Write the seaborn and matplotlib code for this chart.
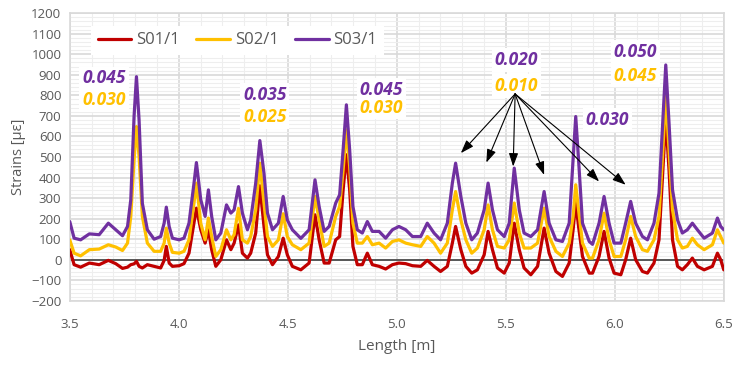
import pandas as pd
import seaborn as sns
import matplotlib.pyplot as plt
from matplotlib.ticker import MultipleLocator, FormatStrFormatter

# === Data ===
length = [3.50, 3.52, 3.55, 3.59, 3.635, 3.677, 3.711, 3.742, 3.765, 3.78,
          3.795, 3.806, 3.818, 3.833, 3.856, 3.887, 3.917, 3.933, 3.943, 3.956,
          3.971, 4.002, 4.024, 4.047, 4.07, 4.081,
          4.101, 4.121, 4.136, 4.151, 4.17, 4.193, 4.219, 4.239, 4.254, 4.274,
          4.292, 4.315, 4.33, 4.353, 4.372, 4.391, 4.407, 4.43, 4.457, 4.479,
          4.498, 4.521, 4.56, 4.598, 4.625, 4.644, 4.667, 4.69,
          4.72, 4.738, 4.754, 4.769, 4.784, 4.799, 4.819, 4.842, 4.865, 4.888,
          4.919, 4.949, 4.98, 5.01, 5.041, 5.072, 5.11, 5.14, 5.171, 5.201,
          5.232, 5.255, 5.27,
          5.294, 5.317, 5.344, 5.37, 5.401, 5.419, 5.439, 5.462, 5.493, 5.516,
          5.539, 5.562, 5.584, 5.615, 5.646, 5.676, 5.699, 5.73, 5.76, 5.791,
          5.809, 5.821, 5.834, 5.852, 5.883,
          5.898, 5.928, 5.951, 5.974, 5.997, 6.028, 6.05, 6.073, 6.096, 6.127,
          6.15, 6.18, 6.203, 6.219, 6.234, 6.249, 6.265, 6.288, 6.31, 6.333,
          6.356, 6.379, 6.41, 6.448, 6.471, 6.486, 6.50]

s03 = [186, 105, 97, 126, 122, 178, 146, 117, 162, 292,
       697, 891, 680, 275, 146, 100, 113, 178, 256, 162,
       105, 97, 105, 178, 373, 473,
       292, 211, 340, 211, 97, 130, 267, 227, 243, 356,
       227, 146, 194, 373, 580, 421, 227, 146, 178, 308,
       194, 146, 104, 146, 389, 259, 138, 162,
       276, 316, 535, 754, 535, 259, 146, 130, 186, 138,
       138, 105, 146, 162, 146, 113, 113, 178, 130, 97,
       178, 373, 470,
       308, 178, 97, 130, 243, 373, 243, 146, 113, 178,
       446, 243, 130, 113, 146, 332, 178, 97, 89, 178,
       486, 697, 486, 178, 89,
       75, 178, 308, 178, 81, 81, 178, 284, 178, 113,
       97, 178, 324, 648, 948, 665, 340, 194, 130, 146,
       178, 146, 105, 130, 203, 162, 146]

s02 = [97, 32, 19, 49, 52, 73, 62, 45, 81, 211,
       486, 648, 502, 211, 81, 41, 41, 81, 154, 81,
       36, 32, 41, 97, 276, 373,
       178, 97, 203, 113, 16, 49, 146, 97, 122, 250,
       97, 81, 113, 243, 470, 276, 113, 65, 97, 224,
       113, 73, 49, 81, 308, 194, 65, 81,
       211, 259, 437, 632, 454, 178, 81, 81, 113, 73,
       81, 57, 89, 97, 81, 73, 65, 113, 81, 32,
       81, 243, 332,
       194, 97, 32, 57, 146, 267, 146, 65, 57, 97,
       276, 130, 57, 57, 81, 251, 113, 41, 16, 81,
       211, 365, 243, 81, 8,
       8, 97, 227, 97, 16, 16, 97, 211, 113, 49,
       41, 97, 211, 502, 800, 535, 243, 97, 57, 65,
       105, 73, 49, 73, 146, 113, 81]

s01 = [49, -24, -36, -16, -24, -3, -19, -42, -36, -24,
       -20, -8, -32, -40, -24, -32, -40, -3, 65, -16,
       -32, -29, -19, 32, 178, 251,
       146, 81, 146, 49, -32, 0, 97, 49, 81, 170,
       32, 8, 32, 130, 360, 162, 24, -24, 16, 105,
       24, -32, -49, -16, 219, 97, -16, -16,
       97, 113, 340, 511, 340, 65, -24, -24, 32, -24,
       -32, -45, -24, -16, -19, -29, -32, -3, -32, -57,
       -32, 81, 162,
       49, -32, -65, -49, 24, 138, 49, -40, -65, -16,
       178, 49, -40, -73, -32, 154, 32, -57, -81, -16,
       146, 280, 162, 16, -65,
       -65, 16, 138, 8, -65, -73, 0, 105, 0, -57,
       -65, -16, 97, 405, 689, 437, 97, -32, -49, -24,
       8, -32, -49, -32, 32, 0, -49]

series_names = ['S01/1', 'S02/1', 'S03/1']
series_colors = ['#C00000', '#FFC000', '#7030A0']

# annotation labels: (text, colour, x, y)
labels = [('0.045', '#7030A0', 3.657, 883), ('0.030', '#FFC000', 3.657, 778),
          ('0.035', '#7030A0', 4.395, 802), ('0.025', '#FFC000', 4.395, 694),
          ('0.045', '#7030A0', 4.93, 826), ('0.030', '#FFC000', 4.93, 740),
          ('0.020', '#7030A0', 5.55, 972), ('0.010', '#FFC000', 5.55, 846),
          ('0.030', '#7030A0', 5.965, 681),
          ('0.050', '#7030A0', 6.094, 1010), ('0.045', '#FFC000', 6.094, 896)]
arrow_start = (5.543, 807)
arrow_x = [5.294, 5.411, 5.534, 5.676, 5.928, 6.05]
arrow_y = [519, 473, 454, 413, 381, 365]

# === Long-form table for seaborn ===
df = pd.DataFrame({'Length': length, 'S01/1': s01, 'S02/1': s02, 'S03/1': s03})
long_df = df.melt(id_vars='Length', var_name='Series', value_name='Strain')

sns.set_style('white')
plt.rcParams['font.family'] = ['Open Sans', 'DejaVu Sans']

fig, ax = plt.subplots(figsize=(7.5, 3.66), dpi=100)
fig.subplots_adjust(left=0.093, right=0.965, top=0.964, bottom=0.178)

# grid
ax.xaxis.set_major_locator(MultipleLocator(0.5))
ax.xaxis.set_minor_locator(MultipleLocator(0.1))
ax.yaxis.set_major_locator(MultipleLocator(100))
ax.yaxis.set_minor_locator(MultipleLocator(20))
ax.grid(which='major', color='#D9D9D9', lw=1.2, zorder=0)
ax.grid(which='minor', color='#EEEEEE', lw=0.8, zorder=0)
ax.set_axisbelow(True)
ax.axhline(0, color='#404040', lw=1.2, zorder=1)

sns.lineplot(data=long_df, x='Length', y='Strain', hue='Series',
             hue_order=series_names, palette=series_colors, lw=2.3,
             solid_joinstyle='round', ax=ax, zorder=3)

ax.set_xlim(3.5, 6.5)
ax.set_ylim(-200, 1200)
ax.xaxis.set_major_formatter(FormatStrFormatter('%.1f'))
ax.tick_params(which='both', length=0, labelsize=9.5, colors='#595959', pad=6)
ax.tick_params(axis='x', pad=12)
for sp in ax.spines.values():
    sp.set_color('#D9D9D9')
    sp.set_linewidth(1.2)

ax.set_xlabel('Length [m]', fontsize=11, color='#595959', labelpad=6)
ax.set_ylabel('Strains [με]', fontsize=10.5, color='#595959', labelpad=4)

leg = ax.legend(loc='upper left', bbox_to_anchor=(0.02, 0.985), ncol=3,
                fontsize=12, frameon=True, fancybox=False, handlelength=2.0,
                columnspacing=1.0, handletextpad=0.3, borderpad=0.4)
leg.get_frame().set_edgecolor('none')
leg.get_frame().set_facecolor('white')
leg.get_frame().set_alpha(1)
for t in leg.get_texts():
    t.set_color('#595959')

for text, col, lx, ly in labels:
    ax.text(lx, ly, text, color=col, fontsize=12.5, fontweight='bold',
            fontstyle='italic', ha='center', va='center', zorder=4,
            bbox=dict(facecolor='white', edgecolor='none', pad=2))

for ex, ey in zip(arrow_x, arrow_y):
    ax.annotate('', xy=(ex, ey), xytext=arrow_start, zorder=5,
                arrowprops=dict(arrowstyle='-|>,head_length=0.8,head_width=0.28',
                                color='black', lw=0.8, shrinkA=0, shrinkB=0))

fig.savefig('out.png', dpi=100, facecolor='white')
